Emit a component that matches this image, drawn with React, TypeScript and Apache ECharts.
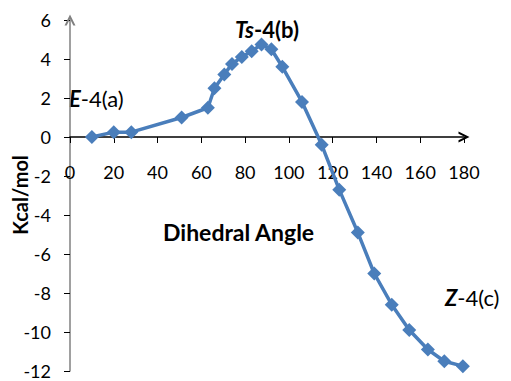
import React, { useEffect, useRef } from "react";
import * as echarts from "echarts";

const angles = [10, 20, 28, 51, 63, 66, 70.5, 74, 78.5, 83, 87.5, 92, 97, 106, 115, 123, 131.5, 139, 147, 155, 163.5, 171, 179.5];
const energies = [0, 0.25, 0.25, 1.0, 1.5, 2.5, 3.2, 3.75, 4.1, 4.4, 4.75, 4.5, 3.6, 1.8, -0.4, -2.7, -4.9, -7.0, -8.6, -9.9, -10.9, -11.5, -11.75];
const xTicks = { min: 0, max: 180, interval: 20 };
const yTicks = { min: -12, max: 6, interval: 2 };

const arrow = "path://M0,10 L5,0 L10,10 L8,10 L5,4 L2,10 Z";
const FONT = "Lato, 'Open Sans', sans-serif";

export default function App() {
  const ref = useRef<HTMLDivElement>(null);
  useEffect(() => {
    const chart = echarts.init(ref.current!, null, { renderer: "svg" });
    const richI = { fontStyle: "italic", fontWeight: "bold", fontSize: 22, fontFamily: FONT, fill: "#000" };
    chart.setOption({
      animation: false,
      backgroundColor: "#ffffff",
      grid: { left: 70, right: 47, top: 20, bottom: 10, containLabel: false, outerBoundsMode: "none" },
      xAxis: [
        {
          type: "value",
          min: xTicks.min,
          max: xTicks.max,
          interval: xTicks.interval,
          axisLine: {
            onZero: true,
            lineStyle: { color: "#000", width: 1.5 },
            symbol: ["none", arrow],
            symbolSize: [11, 14],
          },
          axisTick: { show: true, inside: false, length: 6, lineStyle: { color: "#000" } },
          axisLabel: { show: false },
          splitLine: { show: false },
        },
        {
          type: "value",
          position: "bottom",
          offset: -234,
          min: xTicks.min,
          max: xTicks.max,
          interval: xTicks.interval,
          axisLine: { show: false, onZero: false },
          axisTick: { show: false },
          axisLabel: { margin: 26, fontSize: 18, color: "#000", fontFamily: FONT },
          splitLine: { show: false },
        },
      ],
      yAxis: {
        type: "value",
        min: yTicks.min,
        max: yTicks.max,
        interval: yTicks.interval,
        axisLine: {
          lineStyle: { color: "#808080", width: 1.5 },
          symbol: ["none", arrow],
          symbolSize: [11, 14],
        },
        axisTick: { show: true, inside: false, length: 6, lineStyle: { color: "#000" } },
        axisLabel: { margin: 19, fontSize: 18, color: "#000", fontFamily: FONT },
        splitLine: { show: false },
      },
      series: [
        {
          type: "line",
          xAxisIndex: 0,
          data: angles.map((a, i) => [a, energies[i]]),
          symbol: "diamond",
          symbolSize: 14,
          showAllSymbol: true,
          lineStyle: { color: "#4A7EBB", width: 3.5 },
          itemStyle: { color: "#4A7EBB" },
        },
      ],
      graphic: [
        {
          type: "text",
          x: 20,
          y: 195,
          rotation: Math.PI / 2,
          style: {
            text: "Kcal/mol",
            font: `bold 20px ${FONT}`,
            fill: "#000",
            align: "center",
            verticalAlign: "middle",
          },
        },
        {
          type: "text",
          left: 163,
          top: 220,
          style: { text: "Dihedral Angle", font: `bold 23px ${FONT}`, fill: "#000" },
        },
        {
          type: "text",
          left: 69,
          top: 87,
          style: {
            text: "{i|E}-4(a)",
            font: `22px ${FONT}`,
            fill: "#000",
            rich: { i: richI },
          },
        },
        {
          type: "text",
          left: 235,
          top: 18,
          style: {
            text: "{i|Ts}-4(b)",
            font: `bold 22px ${FONT}`,
            fill: "#000",
            rich: { i: richI },
          },
        },
        {
          type: "text",
          left: 445,
          top: 286,
          style: {
            text: "{i|Z}-4(c)",
            font: `22px ${FONT}`,
            fill: "#000",
            rich: { i: richI },
          },
        },
      ],
    });
    return () => chart.dispose();
  }, []);
  return <div ref={ref} style={{ width: 511, height: 381, position: "absolute", left: 0, top: 0 }} />;
}
